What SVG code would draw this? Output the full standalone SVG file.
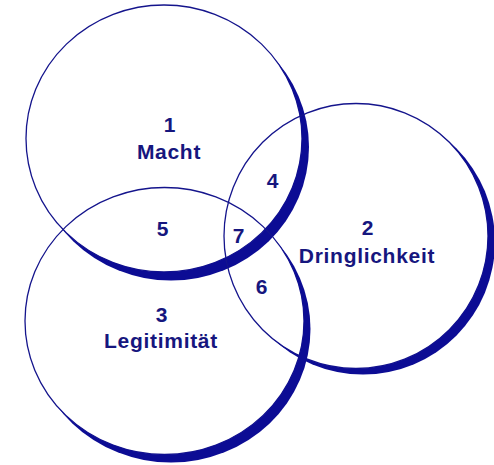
<svg xmlns="http://www.w3.org/2000/svg" width="494" height="465" viewBox="0 0 494 465">
  <style>
    .ring { fill: none; stroke: #14148c; stroke-width: 1.3; }
    .shade { fill: #0c0c94; }
    text { font-family: "Liberation Sans", Arial, sans-serif; font-weight: bold; font-size: 21px; fill: #16167e; text-anchor: middle; letter-spacing: 0.7px; }
  </style>
  <defs>
    <mask id="m1" maskUnits="userSpaceOnUse" x="0" y="0" width="494" height="465">
      <rect x="0" y="0" width="494" height="465" fill="#fff"/>
      <ellipse cx="164" cy="138.5" rx="138" ry="133.5" fill="#000"/>
    </mask>
    <mask id="m2" maskUnits="userSpaceOnUse" x="0" y="0" width="494" height="465">
      <rect x="0" y="0" width="494" height="465" fill="#fff"/>
      <ellipse cx="356" cy="236" rx="132" ry="132.5" fill="#000"/>
    </mask>
    <mask id="m3" maskUnits="userSpaceOnUse" x="0" y="0" width="494" height="465">
      <rect x="0" y="0" width="494" height="465" fill="#fff"/>
      <ellipse cx="164.5" cy="321" rx="139.5" ry="133.5" fill="#000"/>
    </mask>
  </defs>

  <g id="macht">
    <ellipse class="ring" cx="164" cy="138.5" rx="138" ry="133.5"/>
    <ellipse class="shade" cx="171" cy="147" rx="138" ry="133.5" mask="url(#m1)"/>
    <text x="170" y="132">1</text>
    <text x="169" y="159">Macht</text>
  </g>

  <g id="dringlichkeit">
    <ellipse class="ring" cx="356" cy="236" rx="132" ry="132.5"/>
    <ellipse class="shade" cx="363" cy="242" rx="132" ry="132.5" mask="url(#m2)"/>
    <text x="368" y="235">2</text>
    <text x="367" y="263">Dringlichkeit</text>
  </g>

  <g id="legitimitaet">
    <ellipse class="ring" cx="164.5" cy="321" rx="139.5" ry="133.5"/>
    <ellipse class="shade" cx="171" cy="329" rx="139.5" ry="133.5" mask="url(#m3)"/>
    <text x="162" y="322">3</text>
    <text x="161" y="348">Legitimität</text>
  </g>

  <g id="regions">
    <text x="273" y="188">4</text>
    <text x="163" y="236">5</text>
    <text x="262" y="294">6</text>
    <text x="239" y="243">7</text>
  </g>

  <g id="connectors"/>
</svg>
